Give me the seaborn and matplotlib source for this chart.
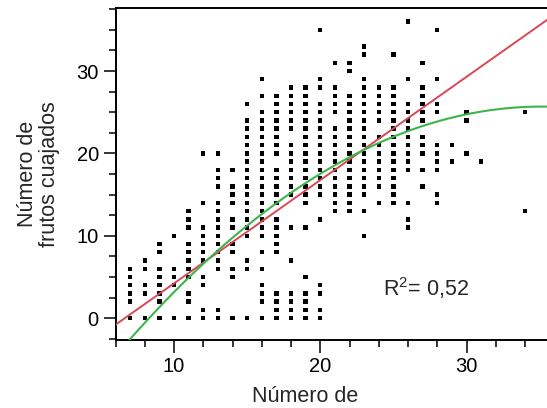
import numpy as np
import pandas as pd
import matplotlib
matplotlib.use("Agg")
import matplotlib.pyplot as plt
import seaborn as sns
from matplotlib.ticker import MultipleLocator

# ---- data ----
x_columns = [7, 8, 9, 10, 11, 12, 13, 14, 15, 16, 17, 18, 19, 20, 21,
             22, 23, 24, 25, 26, 27, 28, 29, 30, 31, 34]
y_by_column = [
    [0, 2, 3, 4, 5, 6],
    [0, 3, 4, 6, 7],
    [0, 2, 3, 4, 5, 6, 8, 9],
    [0, 4, 5, 6, 10],
    [0, 2, 3, 5, 6, 7, 8, 9, 11, 12, 13],
    [0, 1, 4, 5, 7, 8, 9, 10, 11, 14, 20],
    [0, 1, 6, 7, 8, 9, 10, 11, 12, 13, 14, 16, 17, 18, 20],
    [0, 5, 6, 8, 9, 11, 12, 14, 15, 16, 18],
    [0, 6, 7, 10, 11, 12, 13, 14, 15, 16, 17, 18, 19, 20, 21, 22, 23, 24, 26],
    [0, 2, 3, 4, 6, 8, 10, 11, 12, 13, 14, 15, 16, 17, 18, 19, 20, 21, 22,
     23, 24, 25, 27, 29],
    [0, 1, 2, 3, 8, 9, 10, 11, 12, 14, 15, 16, 17, 18, 20, 21, 22, 23, 24,
     25, 26, 27],
    [0, 1, 2, 3, 7, 11, 15, 16, 17, 18, 19, 20, 21, 23, 24, 25, 26, 27, 28],
    [0, 1, 2, 3, 5, 11, 14, 15, 16, 17, 18, 19, 20, 21, 22, 23, 24, 25, 26,
     27, 28],
    [0, 1, 3, 4, 12, 15, 16, 17, 18, 19, 20, 21, 22, 23, 24, 25, 26, 28, 29,
     35],
    [13, 14, 15, 16, 17, 18, 19, 20, 21, 22, 23, 25, 26, 27, 28, 31],
    [13, 14, 15, 16, 17, 18, 19, 20, 21, 22, 23, 24, 25, 26, 27, 30, 31],
    [10, 13, 15, 16, 17, 18, 19, 20, 21, 22, 23, 24, 25, 26, 27, 28, 29, 32,
     33],
    [14, 16, 17, 18, 19, 20, 21, 22, 24, 25, 26, 27, 28],
    [14, 15, 16, 17, 18, 19, 20, 21, 22, 23, 24, 25, 26, 27, 28, 32],
    [11, 12, 14, 18, 19, 20, 21, 22, 23, 24, 25, 26, 29, 36],
    [16, 18, 20, 21, 22, 24, 25, 26, 27, 28, 31],
    [14, 15, 18, 19, 20, 21, 25, 26, 29, 35],
    [19, 21],
    [20, 24, 25],
    [19],
    [13, 25],
]

# fitted models shown in the chart (coefficients)
linear_coef = [-8.32, 1.254]              # y = a + b x
quad_coef = [-18.33, 2.506, -0.03567]     # y = a + b x + c x^2
r2_label = "R$^{\\mathregular{2}}$= 0,52"
x_label = "Número de"
y_label = "Número de\nfrutos cuajados"

# ---- build frames ----
pts = pd.DataFrame(
    [(x, y) for x, ys in zip(x_columns, y_by_column) for y in ys],
    columns=["x", "y"])
xs = np.linspace(6, 35.5, 300)
lin = pd.DataFrame({"x": xs, "y": linear_coef[0] + linear_coef[1] * xs})
quad = pd.DataFrame({"x": xs, "y": quad_coef[0] + quad_coef[1] * xs
                     + quad_coef[2] * xs ** 2})

sns.set_style("ticks")
plt.rcParams["font.family"] = ["Liberation Sans", "DejaVu Sans"]
plt.rcParams["mathtext.fontset"] = "custom"
plt.rcParams["mathtext.rm"] = "Liberation Sans"
plt.rcParams["mathtext.it"] = "Liberation Sans:italic"

fig = plt.figure(figsize=(5.47, 4.08), dpi=100)
ax = fig.add_axes([115.5 / 547, 1 - 340 / 408, (547 - 115.5) / 547, (340 - 8) / 408])

sns.scatterplot(data=pts, x="x", y="y", ax=ax, marker="s", s=10,
                color="black", edgecolor="none", linewidth=0, zorder=2)
sns.lineplot(data=lin, x="x", y="y", ax=ax, color="#d94857", lw=1.4, zorder=3)
sns.lineplot(data=quad, x="x", y="y", ax=ax, color="#3db54a", lw=1.5, zorder=3)

ax.set_xlim(6, 35.5)
ax.set_ylim(-2.65, 37.65)
ax.xaxis.set_major_locator(MultipleLocator(10))
ax.xaxis.set_minor_locator(MultipleLocator(2))
ax.yaxis.set_major_locator(MultipleLocator(10))
ax.yaxis.set_minor_locator(MultipleLocator(2.5))
ax.tick_params(which="major", length=9, width=1.1, labelsize=14.5, direction="out",
               colors="black", pad=3)
ax.tick_params(which="minor", length=5, width=1.1, direction="out", colors="black")

for s in ["left", "bottom", "top"]:
    ax.spines[s].set_visible(True)
    ax.spines[s].set_linewidth(1.4)
    ax.spines[s].set_color("black")
ax.spines["right"].set_visible(False)

ax.set_xlabel(x_label, fontsize=15.5)
ax.xaxis.set_label_coords(0.44, -0.14)
ax.set_ylabel(y_label, fontsize=15.5, linespacing=1.1)
ax.yaxis.set_label_coords(-0.128, 0.5)

ax.text(24.3, 2.7, r2_label, fontsize=15.5, ha="left", va="baseline")

fig.savefig("out.png", dpi=100)
